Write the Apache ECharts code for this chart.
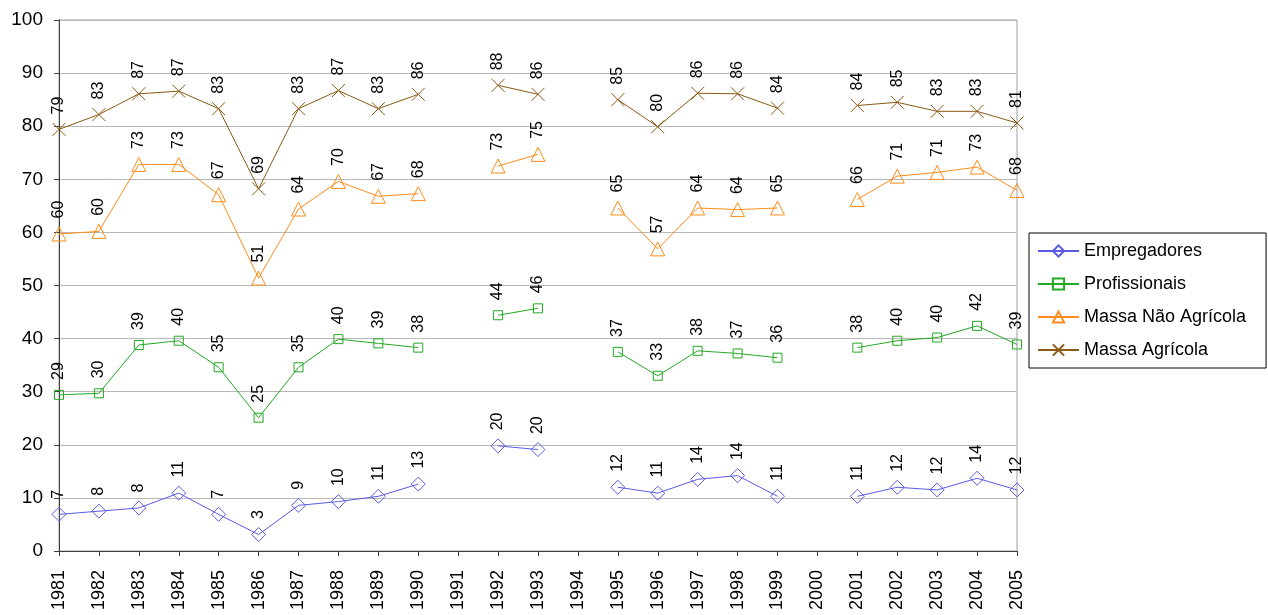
<!DOCTYPE html>
<html>
<head>
<meta charset="utf-8">
<script src="https://cdn.jsdelivr.net/npm/echarts@6/dist/echarts.min.js"></script>
<style>html,body{margin:0;padding:0;background:#fff;}#c{width:1268px;height:615px;}</style>
</head>
<body>
<div id="c"></div>
<script>
var years = ['1981','1982','1983','1984','1985','1986','1987','1988','1989','1990','1991','1992','1993','1994','1995','1996','1997','1998','1999','2000','2001','2002','2003','2004','2005'];
var yTicks = [0,10,20,30,40,50,60,70,80,90,100];

var empregadores = [6.9,7.5,8.1,10.9,6.9,3.1,8.6,9.3,10.3,12.6,null,19.8,19.1,null,12.0,10.9,13.5,14.2,10.3,null,10.3,12.0,11.5,13.7,11.5];
var empregadoresLabels = ['7','8','8','11','7','3','9','10','11','13','','20','20','','12','11','14','14','11','','11','12','12','14','12'];

var profissionais = [29.4,29.7,38.8,39.6,34.6,25.1,34.6,39.9,39.1,38.3,null,44.4,45.7,null,37.5,33.0,37.7,37.2,36.4,null,38.3,39.6,40.2,42.4,38.9];
var profissionaisLabels = ['29','30','39','40','35','25','35','40','39','38','','44','46','','37','33','38','37','36','','38','40','40','42','39'];

var massaNaoAgricola = [59.7,60.2,72.8,72.8,67.1,51.4,64.4,69.6,66.8,67.3,null,72.5,74.7,null,64.6,56.9,64.6,64.3,64.6,null,66.2,70.6,71.3,72.3,67.9];
var massaNaoAgricolaLabels = ['60','60','73','73','67','51','64','70','67','68','','73','75','','65','57','64','64','65','','66','71','71','73','68'];

var massaAgricola = [79.4,82.2,86.1,86.6,83.3,68.2,83.3,86.7,83.3,86.0,null,87.7,86.0,null,85.0,79.9,86.2,86.1,83.4,null,83.9,84.5,82.8,82.8,80.6];
var massaAgricolaLabels = ['79','83','87','87','83','69','83','87','83','86','','88','86','','85','80','86','86','84','','84','85','83','83','81'];

var FONT = 'Liberation Sans, Arial, sans-serif';

function mkLabel(arr, dist) {
  return {
    show: true,
    position: 'top',
    distance: dist,
    rotate: 90,
    align: 'left',
    verticalAlign: 'middle',
    color: '#000',
    fontFamily: FONT,
    fontSize: 16,
    formatter: function (p) { return arr[p.dataIndex]; }
  };
}

function mkSeries(name, data, labels, color, symbol, size, dist) {
  return {
    name: name,
    type: 'line',
    data: data,
    connectNulls: false,
    symbol: symbol,
    symbolSize: size,
    showAllSymbol: true,
    lineStyle: { color: color, width: 1 },
    itemStyle: { color: 'rgba(255,255,255,0)', borderColor: color, borderWidth: 1 },
    emphasis: { disabled: true },
    label: mkLabel(labels, dist),
    animation: false
  };
}

var chart = echarts.init(document.getElementById('c'), null, { renderer: 'canvas' });
chart.setOption({
  backgroundColor: '#fff',
  animation: false,
  grid: { left: 59, right: 251, top: 20, bottom: 64, show: true, borderColor: '#a0a0a0', borderWidth: 1, backgroundColor: 'transparent' },
  legend: {
    orient: 'vertical',
    left: 1029,
    top: 233,
    padding: [9, 20, 9, 8],
    itemGap: 15,
    itemWidth: 41,
    itemHeight: 14,
    borderColor: '#000',
    borderWidth: 1,
    backgroundColor: '#fff',
    textStyle: { fontFamily: FONT, fontSize: 18, color: '#000' },
    data: ['Empregadores', 'Profissionais', 'Massa Não Agrícola', 'Massa Agrícola']
  },
  xAxis: {
    type: 'category',
    data: years,
    boundaryGap: false,
    axisLine: { lineStyle: { color: '#404040', width: 1 } },
    axisTick: { show: true, alignWithLabel: true, length: 5, lineStyle: { color: '#404040' } },
    axisLabel: { interval: 0, rotate: 90, margin: 19, color: '#000', fontFamily: FONT, fontSize: 18 },
    splitLine: { show: false }
  },
  yAxis: {
    type: 'value',
    min: 0,
    max: 100,
    interval: 10,
    axisLine: { show: true, lineStyle: { color: '#404040', width: 1 } },
    axisTick: { show: true, length: 5, lineStyle: { color: '#404040' } },
    axisLabel: {
      margin: 16, color: '#000', fontFamily: FONT, fontSize: 19,
      formatter: function (v) { return yTicks.indexOf(v) >= 0 ? String(v) : ''; }
    },
    splitLine: { show: true, lineStyle: { color: '#b8b8b8', width: 1 } }
  },
  series: [
    mkSeries('Empregadores', empregadores, empregadoresLabels, '#5a5ae6', 'diamond', 14, 8),
    mkSeries('Profissionais', profissionais, profissionaisLabels, '#22aa22', 'rect', 9, 10),
    mkSeries('Massa Não Agrícola', massaNaoAgricola, massaNaoAgricolaLabels, '#ff8c1a', 'triangle', 14, 8),
    mkSeries('Massa Agrícola', massaAgricola, massaAgricolaLabels, '#8b5a14', 'path://M0,0L10,10M10,0L0,10', 13, 8)
  ]
});
</script>
</body>
</html>
